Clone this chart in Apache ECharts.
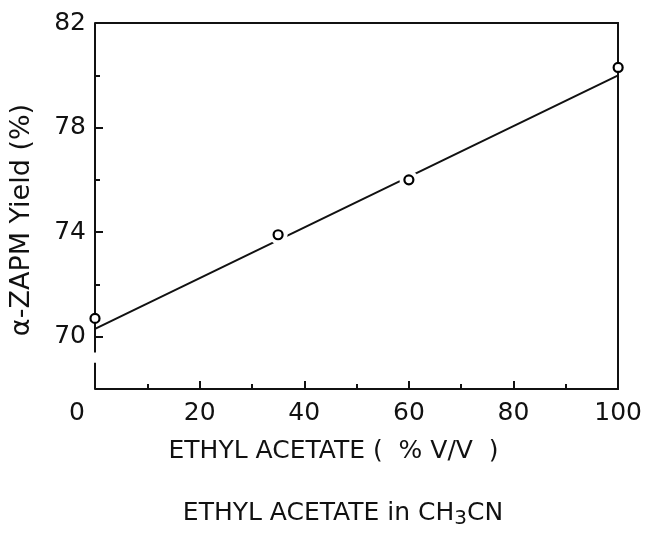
<!DOCTYPE html>
<html>
<head>
<meta charset="utf-8">
<script src="https://cdn.jsdelivr.net/npm/echarts@6/dist/echarts.min.js"></script>
<style>
  html, body { margin: 0; padding: 0; background: #fff; }
  #chart { width: 645px; height: 534px; }
</style>
</head>
<body>
<div id="chart"></div>
<script>
// measured points (ethyl acetate %, yield %)
var acetatePct = [0, 35, 60, 100];
var yieldPct = [70.7, 73.9, 76.0, 80.3];
// straight fitted line drawn through the points
var fitX = [0, 100];
var fitY = [70.3, 80.0];
// axis ticks
var xTicks = [0, 20, 40, 60, 80, 100];
var yMajor = [70, 74, 78, 82];
var yMinor = [72, 76, 80];
// broken y axis: lower piece and upper piece
var yLow = [68, 69.0];
var yHigh = [69.4, 82];

var ink = '#111';
var font = 'DejaVu Sans';

var points = acetatePct.map(function (x, i) { return [x, yieldPct[i]]; });
var midPoints = points.filter(function (p) { return p[0] > 0 && p[0] < 100; });
var fitLine = fitX.map(function (x, i) { return [x, fitY[i]]; });

var chart = echarts.init(document.getElementById('chart'));
var option = {
    animation: false,
    backgroundColor: '#fff',
    grid: { left: 95, right: 20, top: 23, bottom: 145, containLabel: false },
    xAxis: [
        {
            type: 'value', min: 0, max: 100, interval: 20, position: 'bottom',
            axisLine: { show: true, onZero: false, lineStyle: { color: ink, width: 2 } },
            axisTick: { show: true, inside: true, length: 8, lineStyle: { color: ink, width: 2 } },
            minorTick: { show: true, splitNumber: 2, length: 5, lineStyle: { color: ink, width: 2 } },
            splitLine: { show: false },
            minorSplitLine: { show: false },
            axisLabel: {
                margin: 12, fontSize: 25, fontFamily: font, color: ink,
                formatter: function (v) { return v === 0 ? '{z|0}' : String(v); },
                rich: { z: { fontSize: 25, fontFamily: font, color: ink, padding: [0, 36, 0, 0] } }
            },
            name: 'ETHYL ACETATE (  % V/V  )',
            nameLocation: 'middle',
            nameGap: 50,
            nameTextStyle: { fontSize: 25, fontFamily: font, color: ink, padding: [0, 46, 0, 0] }
        },
        {
            type: 'value', min: 0, max: 100, position: 'top',
            axisLine: { show: true, onZero: false, lineStyle: { color: ink, width: 2 } },
            axisTick: { show: false }, axisLabel: { show: false }, splitLine: { show: false }
        }
    ],
    yAxis: [
        {
            type: 'value', min: 68, max: 82, position: 'left',
            axisLine: { show: false },
            axisTick: { show: true, inside: true, length: 8, customValues: yMajor, lineStyle: { color: ink, width: 2 } },
            axisLabel: { margin: 9, fontSize: 25, fontFamily: font, color: ink, customValues: yMajor },
            splitLine: { show: false },
            name: 'α-ZAPM Yield (%)',
            nameLocation: 'middle',
            nameRotate: 90,
            nameGap: 60,
            nameTextStyle: { fontSize: 27, fontFamily: font, color: ink, padding: [0, 28, 0, 0] }
        },
        {
            type: 'value', min: 68, max: 82, position: 'left',
            axisLine: { show: false },
            axisTick: { show: true, inside: true, length: 5, customValues: yMinor, lineStyle: { color: ink, width: 2 } },
            axisLabel: { show: false },
            splitLine: { show: false }
        },
        {
            type: 'value', min: 68, max: 82, position: 'right',
            axisLine: { show: true, onZero: false, lineStyle: { color: ink, width: 2 } },
            axisTick: { show: false }, axisLabel: { show: false }, splitLine: { show: false }
        }
    ],
    graphic: [
        {
            type: 'text', x: 343, y: 513,
            style: {
                text: 'ETHYL ACETATE in CH{sub|3}CN',
                align: 'center', verticalAlign: 'middle',
                fontSize: 25, fontFamily: font, fill: ink,
                rich: { sub: { fontSize: 20, fontFamily: font, fill: ink, verticalAlign: 'bottom', padding: [12, 0, 0, 0] } }
            }
        }
    ],
    series: [
        {
            type: 'line',
            data: fitLine,
            symbol: 'none',
            z: 2,
            lineStyle: { color: ink, width: 2 },
            markLine: {
                silent: true,
                symbol: ['none', 'none'],
                label: { show: false },
                lineStyle: { color: ink, width: 2, type: 'solid' },
                data: [
                    [{ coord: [0, yLow[0]] }, { coord: [0, yLow[1]] }],
                    [{ coord: [0, yHigh[0]] }, { coord: [0, yHigh[1]] }],
                    [{ coord: [-1.2, yLow[1]] }, { coord: [0, yLow[1]] }],
                    [{ coord: [-1, yHigh[0]] }, { coord: [1, yHigh[0]] }]
                ]
            }
        },
        {
            type: 'scatter',
            data: midPoints,
            symbol: 'circle',
            symbolSize: 19,
            z: 5,
            itemStyle: { color: '#fff', borderWidth: 0, opacity: 1 }
        },
        {
            type: 'scatter',
            data: points,
            symbol: 'circle',
            symbolSize: 9,
            z: 6,
            itemStyle: { color: '#fff', borderColor: '#000', borderWidth: 2.2, opacity: 1 }
        }
    ]
};
chart.setOption(option);
</script>
</body>
</html>
